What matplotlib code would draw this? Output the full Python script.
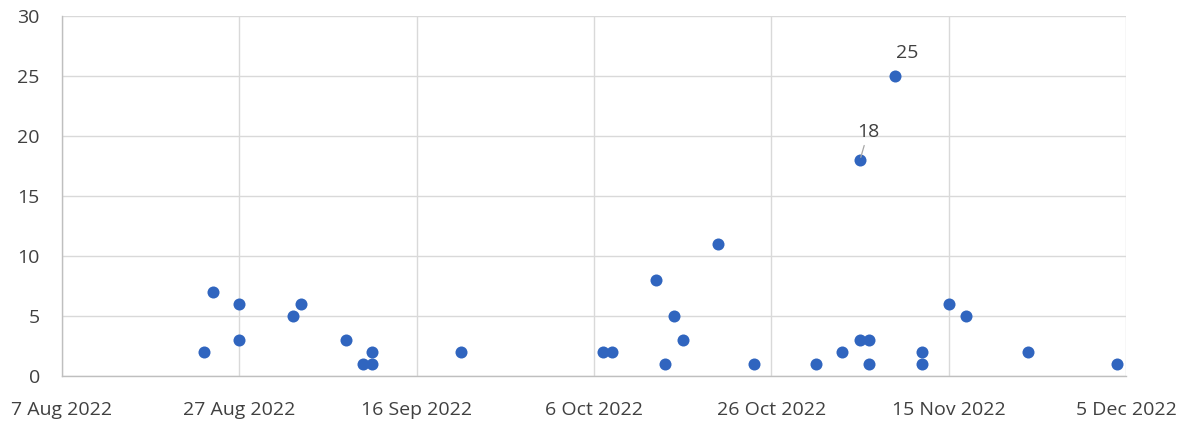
import matplotlib
matplotlib.use("Agg")
import matplotlib.pyplot as plt
import matplotlib.dates as mdates
import datetime as dt

dates = ["2022-08-23", "2022-08-24", "2022-08-27", "2022-08-27", "2022-09-02", "2022-09-03",
         "2022-09-08", "2022-09-10", "2022-09-11", "2022-09-11", "2022-09-21",
         "2022-10-07", "2022-10-08", "2022-10-13", "2022-10-14", "2022-10-15", "2022-10-16",
         "2022-10-20", "2022-10-24", "2022-10-31", "2022-11-03", "2022-11-05", "2022-11-05",
         "2022-11-06", "2022-11-06", "2022-11-09", "2022-11-12", "2022-11-12", "2022-11-15",
         "2022-11-17", "2022-11-24", "2022-12-04"]
values = [2, 7, 6, 3, 5, 6, 3, 1, 2, 1, 2,
          2, 2, 8, 1, 5, 3, 11, 1, 1, 2, 3, 18,
          3, 1, 25, 2, 1, 6, 5, 2, 1]
tick_dates = ["2022-08-07", "2022-08-27", "2022-09-16", "2022-10-06", "2022-10-26",
              "2022-11-15", "2022-12-05"]
tick_labels = ["7 Aug 2022", "27 Aug 2022", "16 Sep 2022", "6 Oct 2022", "26 Oct 2022",
               "15 Nov 2022", "5 Dec 2022"]
y_ticks = [0, 5, 10, 15, 20, 25, 30]

plt.rcParams['font.family'] = ['Open Sans', 'DejaVu Sans']
text_color = "#404040"
grid_color = "#d9d9d9"
dot_color = "#3065bf"

x = [mdates.date2num(dt.date.fromisoformat(d)) for d in dates]
xt = [mdates.date2num(dt.date.fromisoformat(d)) for d in tick_dates]

fig = plt.figure(figsize=(11.86, 4.21), dpi=100)
ax = fig.add_axes([62/1186, 1-376/421, (1126-62)/1186, (376-16)/421])
ax.scatter(x, values, s=75, color=dot_color, zorder=3, linewidths=0)

ax.set_xlim(xt[0], xt[-1])
ax.set_ylim(0, 30)
ax.set_xticks(xt)
ax.set_xticklabels(tick_labels)
ax.set_yticks(y_ticks)
ax.grid(True, color=grid_color, linewidth=1)
ax.set_axisbelow(True)
for s in ["top", "right"]:
    ax.spines[s].set_visible(False)
for s in ["left", "bottom"]:
    ax.spines[s].set_color("#bfbfbf")
    ax.spines[s].set_linewidth(1)
ax.tick_params(axis="both", length=0, labelsize=14, colors=text_color)
ax.tick_params(axis="x", pad=18)
ax.tick_params(axis="y", pad=16)

# labels for the two highest points
i18 = values.index(18)
i25 = values.index(25)
ax.annotate("18", xy=(x[i18], values[i18]), xytext=(x[i18] + 0.9, values[i18] + 2.3),
            ha="center", va="center", fontsize=14, color=text_color,
            arrowprops=dict(arrowstyle="-", color="#a6a6a6", lw=0.9, shrinkA=1, shrinkB=2))
ax.annotate("25", xy=(x[i25], values[i25]), xytext=(x[i25] + 1.35, values[i25] + 1.9),
            ha="center", va="center", fontsize=14, color=text_color)

fig.savefig("out.png", dpi=100)
